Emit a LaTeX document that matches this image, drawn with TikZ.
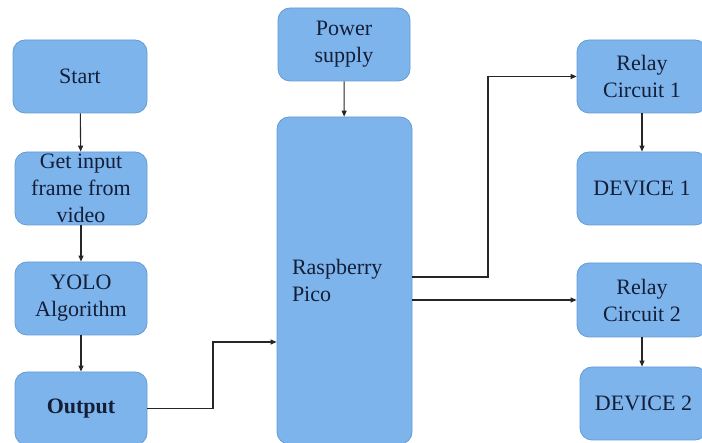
\documentclass[tikz,border=0pt]{standalone}
\usepackage{fontspec}
\setmainfont{Liberation Serif}
\usetikzlibrary{arrows.meta}
\usetikzlibrary{positioning}

\definecolor{boxfill}{RGB}{125,180,236}
\definecolor{boxline}{RGB}{100,155,215}
\definecolor{boxtext}{RGB}{20,30,55}

\begin{document}
\begin{tikzpicture}[x=1pt, y=-1pt,
  box/.style={draw=boxline, fill=boxfill, rounded corners=12pt, line width=0.8pt,
    minimum width=132pt, minimum height=73pt, inner sep=0pt, align=center,
    text=boxtext, font=\fontsize{22}{27}\selectfont},
  arr/.style={-{Triangle[length=6pt, width=5pt]}, line width=1.1pt, draw=black!85}]
\useasboundingbox (0,0) rectangle (702,443);

% left column
\node[box, minimum width=134pt] (start) at (80,76.5) {Start};
\node[box] (input) at (81,188.5) {Get input\\frame from\\video};
\node[box] (yolo) at (81,298.5) {YOLO\\Algorithm};
\node[box, font=\fontsize{22}{27}\selectfont\bfseries] (output) at (81,408.5) {Output};

% middle
\node[box] (power) at (344,44.5) {Power\\supply};
\node[box, minimum width=135pt, minimum height=327pt, text width=105pt, align=left] (pico) at (344.5,280.5) {Raspberry\\Pico};

% right column
\node[box, minimum width=130pt] (relayA) at (642,76.5) {Relay\\Circuit 1};
\node[box, minimum width=130pt] (devA) at (642,188.5) {DEVICE 1};
\node[box, minimum width=130pt, minimum height=74pt] (relayB) at (642,300) {Relay\\Circuit 2};
\node[box, minimum width=127pt] (devB) at (643.5,403.5) {DEVICE 2};

\coordinate (bendA) at (213,342);
\coordinate (bendB) at (488,277);

\draw[arr] (start) -- (input);
\draw[arr] (input) -- (yolo);
\draw[arr] (yolo) -- (output);
\draw[arr] (output.east) -| (bendA) -- (bendA -| pico.west);
\draw[arr] (power) -- (pico);
\draw[arr] (pico.east |- bendB) -- (bendB) |- (relayA.west);
\draw[arr] (pico.east |- relayB.west) -- (relayB.west);
\draw[arr] (relayA) -- (devA);
\draw[arr] (relayB.south) -- (relayB.south |- devB.north);
\end{tikzpicture}
\end{document}
